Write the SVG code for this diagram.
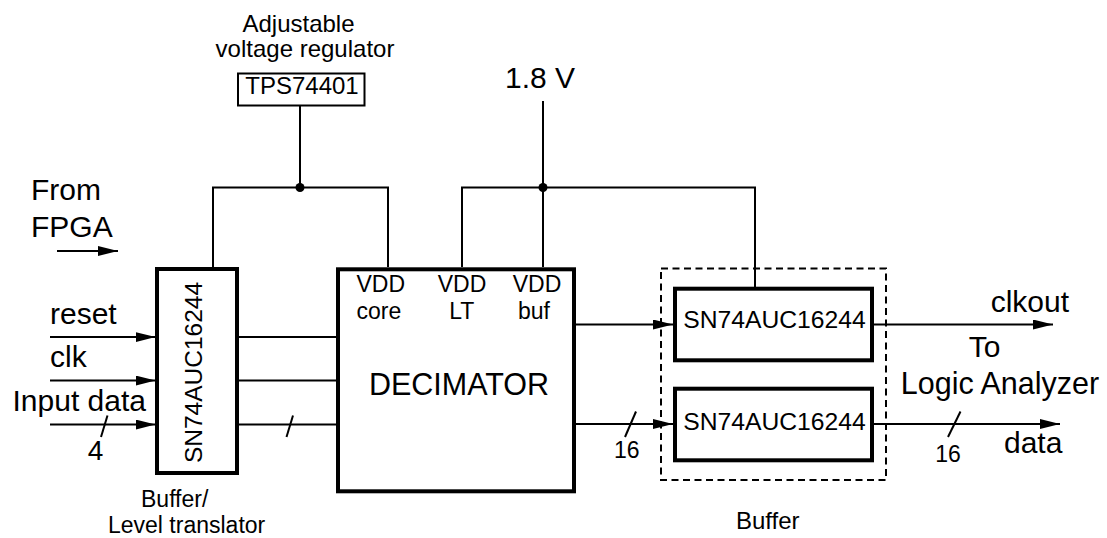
<svg xmlns="http://www.w3.org/2000/svg" width="1107" height="538" viewBox="0 0 1107 538">
<defs>
<style>
text{font-family:"Liberation Sans",Arial,Helvetica,sans-serif;fill:#000}
.l{font-size:30px}
.m{font-size:24px}
.v{font-size:23px}
.s{font-size:23px}
.c{text-anchor:middle}
.w{stroke:#000;stroke-width:2;fill:none}
.box{stroke:#000;stroke-width:4;fill:#fff}
.thin{stroke:#000;stroke-width:2;fill:#fff}
.dash{stroke:#000;stroke-width:2;fill:none;stroke-dasharray:7 4.5}
.arr{marker-end:url(#ah)}
</style>
<marker id="ah" markerUnits="userSpaceOnUse" markerWidth="20" markerHeight="10" refX="20" refY="5" orient="auto" viewBox="0 0 20 10">
<path d="M0,0 L20,5 L0,10 Z" fill="#000"/>
</marker>
</defs>
<rect width="1107" height="538" fill="#fff"/>

<g id="connectors">
<path class="w" d="M300,105.5 V187.5 M213,267 V187.5 H388 V267"/>
<circle cx="300" cy="187.5" r="4.5" fill="#000"/>
<path class="w" d="M543,101 V267 M462,267 V187.5 H755 V287"/>
<circle cx="543" cy="187.5" r="4.5" fill="#000"/>
<line class="w arr" x1="57" y1="251" x2="118" y2="251"/>
<line class="w arr" x1="50" y1="337" x2="155.5" y2="337"/>
<line class="w arr" x1="50" y1="380.5" x2="155.5" y2="380.5"/>
<line class="w arr" x1="50" y1="424.5" x2="155.5" y2="424.5"/>
<line class="w" x1="107.5" y1="415.5" x2="101" y2="437"/>
<line class="w" x1="239" y1="337" x2="337" y2="337"/>
<line class="w" x1="239" y1="380.5" x2="337" y2="380.5"/>
<line class="w" x1="239" y1="424.5" x2="337" y2="424.5"/>
<line class="w" x1="293" y1="415.5" x2="286.5" y2="437"/>
<line class="w arr" x1="575" y1="324.5" x2="673" y2="324.5"/>
<line class="w arr" x1="575" y1="424" x2="673" y2="424"/>
<line class="w" x1="636" y1="411.5" x2="625" y2="437"/>
<line class="w arr" x1="874" y1="324.5" x2="1053" y2="324.5"/>
<line class="w arr" x1="874" y1="424" x2="1060" y2="424"/>
<line class="w" x1="960.5" y1="411.5" x2="948" y2="437"/>
</g>

<g id="regulator">
<text class="m c" x="298.5" y="32">Adjustable</text>
<text class="m c" x="305" y="57">voltage regulator</text>
<rect class="thin" x="238" y="73.5" width="126.5" height="32"/>
<text class="m c" x="302" y="93.5">TPS74401</text>
</g>

<g id="supply18">
<text class="l" x="505" y="87.5">1.8 V</text>
</g>

<g id="fromfpga">
<text class="l" x="31" y="200"><tspan x="31" y="200">From</tspan><tspan x="31" y="237">FPGA</tspan></text>
</g>

<g id="input-labels">
<text class="l" x="50" y="324.3">reset</text>
<text class="l" x="50" y="367.3">clk</text>
<text class="l" x="12.5" y="410.7">Input data</text>
<text x="95.5" y="460" style="font-size:28px" text-anchor="middle">4</text>
</g>

<g id="level-buffer">
<rect class="box" x="157" y="269" width="80" height="204"/>
<text class="m c" transform="translate(201.5,372.5) rotate(-90)" style="font-size:24.5px">SN74AUC16244</text>
<text class="v" x="141" y="506.5"><tspan x="141" y="506.5">Buffer/</tspan><tspan x="108" y="533">Level translator</tspan></text>
</g>

<g id="decimator">
<rect class="box" x="338" y="269.3" width="236" height="222"/>
<text class="v" x="356" y="292"><tspan x="356.5" y="292">VDD</tspan><tspan x="356.5" y="318.5">core</tspan></text>
<text class="v c" x="462" y="292"><tspan x="462" y="292">VDD</tspan><tspan x="461.7" y="318.5">LT</tspan></text>
<text class="v c" x="537" y="292"><tspan x="537" y="292">VDD</tspan><tspan x="534" y="318.5">buf</tspan></text>
<text class="l c" x="459" y="395" style="font-size:30.5px">DECIMATOR</text>
</g>

<g id="label-16a">
<text class="s c" x="626.7" y="458.3">16</text>
</g>

<g id="output-buffer">
<rect class="dash" x="661" y="268.5" width="225" height="211.5"/>
<rect class="box" x="675" y="288.7" width="197" height="71.6"/>
<text class="m c" x="774.5" y="328.3" style="font-size:24.7px">SN74AUC16244</text>
<rect class="box" x="675" y="388.7" width="197" height="71.6"/>
<text class="m c" x="774.5" y="430" style="font-size:24.7px">SN74AUC16244</text>
<text class="m c" x="767.7" y="529.3">Buffer</text>
</g>

<g id="output-labels">
<text class="l" x="990.7" y="311.7">clkout</text>
<text class="l c" x="984.5" y="356.7"><tspan x="984.5" y="356.7">To</tspan><tspan x="1000" y="394" style="font-size:30.5px">Logic Analyzer</tspan></text>
<text class="s c" x="948" y="461.7">16</text>
<text class="l" x="1004" y="453.3">data</text>
</g>
</svg>
